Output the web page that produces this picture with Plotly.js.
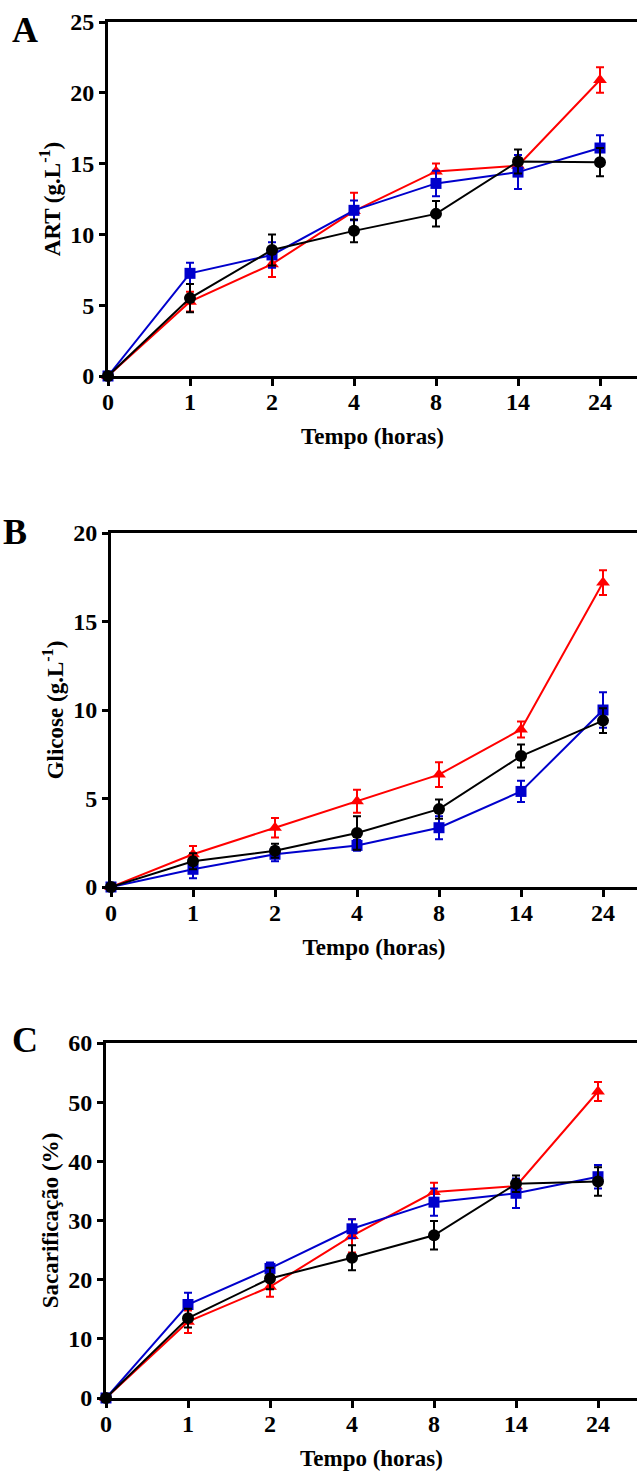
<!DOCTYPE html>
<html>
<head>
<meta charset="utf-8">
<script src="https://cdn.plot.ly/plotly-3.0.1.min.js"></script>
<style>html,body{margin:0;padding:0;background:#fff;}#chart{width:637px;height:1477px;}</style>
</head>
<body>
<div id="chart"></div>
<script>
// Categories (time, hours)
const tempo = ["0", "1", "2", "4", "8", "14", "24"];

// Panel A: ART (g.L-1)
const artBlack = [0, 5.5, 8.9, 10.25, 11.45, 15.15, 15.1];
const artBlackErr = [0, 1.0, 1.1, 0.8, 0.9, 0.85, 1.0];
const artBlue = [0, 7.25, 8.55, 11.7, 13.6, 14.4, 16.1];
const artBlueErr = [0, 0.75, 0.9, 0.7, 0.9, 1.2, 0.9];
const artRed = [0, 5.25, 7.9, 11.65, 14.45, 14.85, 20.9];
const artRedErr = [0, 0.7, 0.9, 1.3, 0.55, 0.3, 0.9];

// Panel B: Glicose (g.L-1)
const gliBlack = [0, 1.45, 2.05, 3.05, 4.4, 7.4, 9.4];
const gliBlackErr = [0, 0.45, 0.4, 0.95, 0.55, 0.65, 0.7];
const gliBlue = [0, 1.0, 1.85, 2.35, 3.35, 5.4, 10.0];
const gliBlueErr = [0, 0.5, 0.4, 0.3, 0.65, 0.6, 1.0];
const gliRed = [0, 1.85, 3.35, 4.85, 6.35, 8.9, 17.2];
const gliRedErr = [0, 0.47, 0.55, 0.65, 0.7, 0.45, 0.7];

// Panel C: Sacarificação (%)
const sacBlack = [0, 13.5, 20.2, 23.7, 27.5, 36.2, 36.6];
const sacBlackErr = [0, 1.6, 1.8, 2.1, 2.4, 1.4, 2.4];
const sacBlue = [0, 15.8, 21.9, 28.6, 33.1, 34.6, 37.4];
const sacBlueErr = [0, 2.0, 1.0, 1.6, 2.3, 2.5, 2.0];
const sacRed = [0, 12.9, 18.8, 27.4, 34.8, 35.8, 51.8];
const sacRedErr = [0, 1.9, 1.7, 2.8, 1.6, 0.5, 1.6];

const yTitles = ["ART (g.L<sup>-1</sup>)", "Glicose (g.L<sup>-1</sup>)", "Sacarificação (%)"];
const panelLetters = ["A", "B", "C"];
const xTitle = "Tempo (horas)";

const FONT = "Liberation Serif, Times New Roman, serif";
const W = 637, H = 1477;

const RED = "#FF0000", BLUE = "#0000CC", BLACK = "#000000";

function series(y, err, color, symbol, size, xa, ya) {
  return {
    x: tempo, y: y, xaxis: xa, yaxis: ya,
    type: "scatter", mode: "lines+markers",
    line: {color: color, width: 2},
    marker: {color: color, symbol: symbol, size: size},
    error_y: {type: "data", array: err, visible: true, color: color, thickness: 2, width: 4},
    cliponaxis: false, showlegend: false, hoverinfo: "skip"
  };
}

const data = [
  series(artRed, artRedErr, RED, "triangle-up", 12, "x", "y"),
  series(artBlue, artBlueErr, BLUE, "square", 11, "x", "y"),
  series(artBlack, artBlackErr, BLACK, "circle", 12, "x", "y"),
  series(gliRed, gliRedErr, RED, "triangle-up", 12, "x2", "y2"),
  series(gliBlue, gliBlueErr, BLUE, "square", 11, "x2", "y2"),
  series(gliBlack, gliBlackErr, BLACK, "circle", 12, "x2", "y2"),
  series(sacRed, sacRedErr, RED, "triangle-up", 12, "x3", "y3"),
  series(sacBlue, sacBlueErr, BLUE, "square", 11, "x3", "y3"),
  series(sacBlack, sacBlackErr, BLACK, "circle", 12, "x3", "y3")
];

// pixel geometry of each panel: [left, top, bottom]
const geo = [[108, 22, 376], [111, 533, 887], [106, 1043, 1398]];
const yRanges = [[0, 25], [0, 20], [0, 60]];
const yDtick = [5, 5, 10];

const tickFont = {family: FONT, size: 24, color: "#000", weight: 700};
const titleFont = {family: FONT, size: 23, color: "#000", weight: 700};

const layout = {
  width: W, height: H,
  margin: {l: 0, r: 0, t: 0, b: 0, pad: 0},
  paper_bgcolor: "#fff", plot_bgcolor: "#fff",
  font: {family: FONT, color: "#000"},
  showlegend: false,
  annotations: []
};

geo.forEach((g, i) => {
  const sfx = i === 0 ? "" : String(i + 1);
  const left = g[0], top = g[1], bottom = g[2];
  const xr = (W - left) / 82;
  layout["xaxis" + sfx] = {
    type: "category", range: [0, xr], domain: [left / W, 1],
    anchor: "y" + sfx,
    showline: true, linecolor: "#000", linewidth: 3, mirror: true,
    showgrid: false, zeroline: false,
    ticks: "outside", ticklen: 7, tickwidth: 3, tickcolor: "#000",
    ticklabelstandoff: -5,
    tickfont: tickFont,
    title: {text: xTitle, font: titleFont, standoff: 15},
    automargin: false
  };
  layout["yaxis" + sfx] = {
    range: yRanges[i], dtick: yDtick[i], tick0: 0,
    domain: [1 - bottom / H, 1 - top / H],
    anchor: "x" + sfx,
    showline: true, linecolor: "#000", linewidth: 3,
    showgrid: false, zeroline: false,
    ticks: "outside", ticklen: 6, tickwidth: 3, tickcolor: "#000",
    tickfont: tickFont,
    title: {text: yTitles[i], font: titleFont, standoff: 4},
    automargin: false
  };
});

const letterPos = [[25, 30], [15, 532], [25, 1040]];
panelLetters.forEach((L, i) => {
  layout.annotations.push({
    text: L, xref: "paper", yref: "paper",
    x: letterPos[i][0] / W, y: 1 - letterPos[i][1] / H,
    xanchor: "center", yanchor: "middle", showarrow: false,
    font: {family: FONT, size: 36, color: "#000", weight: 700}
  });
});

Plotly.newPlot("chart", data, layout, {staticPlot: true, displayModeBar: false});
</script>
</body>
</html>
